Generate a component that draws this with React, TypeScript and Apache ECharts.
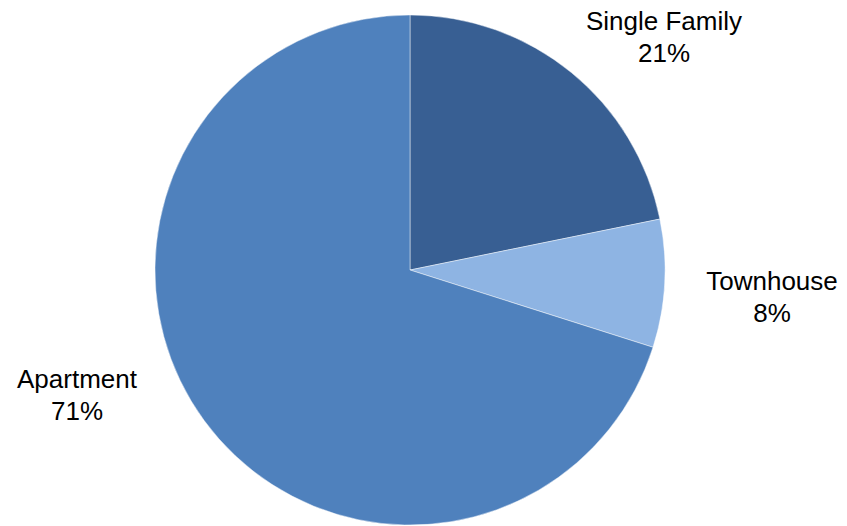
import React, { useEffect, useRef } from "react";
import * as echarts from "echarts";

const categories = ["Single Family", "Townhouse", "Apartment"];
const values = [21.8, 8.1, 70.1];
const pctLabels = ["21%", "8%", "71%"];
const colors = ["#385F93", "#8EB4E3", "#4F81BD"];

const labelPos = [
  { x: 664, y: 37 },
  { x: 772, y: 297 },
  { x: 77, y: 395 },
];

export default function App() {
  const ref = useRef<HTMLDivElement>(null);
  useEffect(() => {
    document.body.style.margin = "0";
    const chart = echarts.init(ref.current!, null, { renderer: "svg" });
    chart.setOption({
      animation: false,
      backgroundColor: "#ffffff",
      series: [
        {
          type: "pie",
          center: [410, 270],
          radius: 255,
          startAngle: 90,
          clockwise: true,
          avoidLabelOverlap: false,
          data: categories.map((c, i) => ({
            name: c,
            value: values[i],
            itemStyle: { color: colors[i] },
          })),
          itemStyle: { borderColor: "rgba(255,255,255,0.45)", borderWidth: 1 },
          label: {
            show: true,
            position: "outside",
            formatter: (p: any) => `${p.name}\n${pctLabels[p.dataIndex]}`,
            fontFamily: "Liberation Sans, Arial, sans-serif",
            fontSize: 26,
            lineHeight: 32,
            color: "#000",
            align: "center",
          },
          labelLine: { show: false },
          labelLayout: (params: any) => ({
            x: labelPos[params.dataIndex].x,
            y: labelPos[params.dataIndex].y,
            align: "center",
            verticalAlign: "middle",
          }),
          emphasis: { disabled: true },
        },
      ],
    });
    return () => chart.dispose();
  }, []);
  return <div ref={ref} style={{ width: 847, height: 526 }} />;
}
